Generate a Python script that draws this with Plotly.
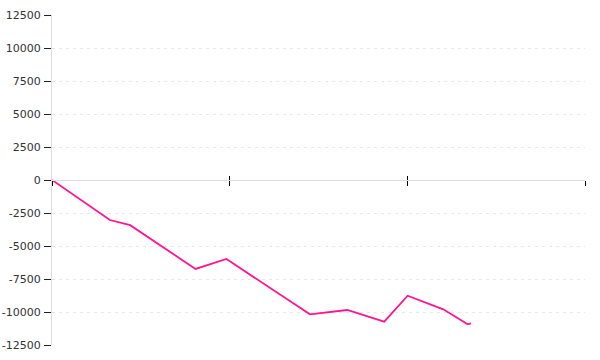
import plotly.graph_objects as go

# Data
x_vals = [0.0, 0.326, 0.440, 0.808, 0.982, 1.452, 1.662, 1.870, 2.002, 2.202, 2.340, 2.358]
y_vals = [0, -3030, -3420, -6740, -5985, -10174, -9848, -10735, -8765, -9795, -10932, -10856]

y_tickvals = [12500, 10000, 7500, 5000, 2500, 0, -2500, -5000, -7500, -10000, -12500]
y_ticktext = ["12500", "10000", "7500", "5000", "2500", "0", "-2500", "-5000", "-7500", "-10000", "-12500"]
x_tickvals = [0, 1, 2, 3]

fig = go.Figure()
fig.add_trace(go.Scatter(
    x=x_vals, y=y_vals, mode="lines",
    line=dict(color="#ff1493", width=1.8),
    hoverinfo="skip", showlegend=False,
))
# empty helper trace so the overlaying axis (upper half of crossing ticks) is drawn
fig.add_trace(go.Scatter(x=[None], y=[None], xaxis="x2", yaxis="y",
                         mode="lines", showlegend=False, hoverinfo="skip"))

fig.update_layout(
    width=600, height=360,
    margin=dict(l=52, r=15, t=15, b=15),
    paper_bgcolor="white", plot_bgcolor="white",
    font=dict(family="DejaVu Sans", size=11, color="#333"),
    xaxis=dict(
        range=[0, 3], tickvals=x_tickvals, showticklabels=False,
        anchor="free", position=0.5, automargin=False,
        showline=True, linecolor="#dddddd", linewidth=1,
        ticks="outside", ticklen=5, tickcolor="#000", tickwidth=1,
        showgrid=False, zeroline=False,
    ),
    xaxis2=dict(
        range=[0, 3], matches="x", overlaying="x", tickvals=x_tickvals,
        showticklabels=False, anchor="free", position=0.5, automargin=False,
        showline=False, ticks="inside", ticklen=4, tickcolor="#000", tickwidth=1,
        showgrid=False, zeroline=False,
    ),
    yaxis=dict(
        range=[-12500, 12500], tickvals=y_tickvals, ticktext=y_ticktext,
        automargin=False,
        showline=True, linecolor="#dddddd", linewidth=1,
        ticks="outside", ticklen=7, tickcolor="#222", tickwidth=1,
        showgrid=True, gridcolor="#e8e8e8", griddash="3px,4px", gridwidth=1,
        zeroline=False, ticklabelstandoff=1,
    ),
)

fig.write_html("out.html")
